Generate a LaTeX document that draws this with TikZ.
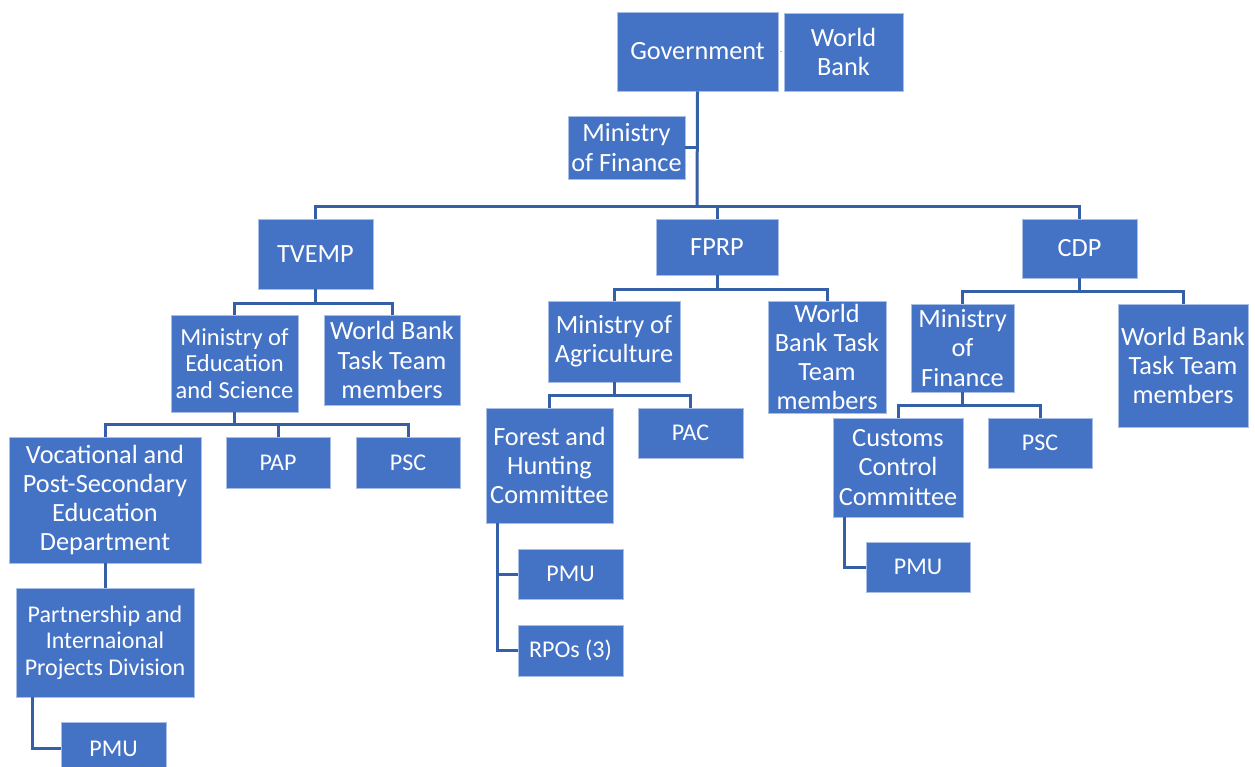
\documentclass[tikz,border=0pt]{standalone}
\usepackage{fontspec}
\setmainfont{Carlito}
\usetikzlibrary{calc}
\definecolor{boxfill}{HTML}{4472C4}
\definecolor{boxedge}{HTML}{A9BEE6}
\definecolor{conn}{HTML}{3560A8}
\tikzset{
  box/.style={fill=boxfill, draw=boxedge, line width=0.8pt, text=white, align=center, inner sep=0pt, font=\fontsize{26.3}{29.3}\selectfont},
  small/.style={font=\fontsize{24}{26.3}\selectfont},
  mid/.style={font=\fontsize{24.5}{26.8}\selectfont},
  link/.style={draw=conn, line width=3pt},
}
\newcommand\bx[7][]{\node[box,#1, minimum width={(#5-#3)*1pt}, minimum height={(#6-#4)*1pt}] (#2) at ({(#3+#5)/2},{(#4+#6)/2}) {#7};}
\begin{document}
\begin{tikzpicture}[x=1pt,y=-1pt]
\useasboundingbox (0,0) rectangle (1255,767);
% boxes
\bx{gov}{617}{12}{778}{91}{Government}
\bx{wb}{784}{13}{903}{91}{World\\Bank}
\bx{mof}{568}{116}{685}{179}{Ministry\\of Finance}
\bx{tvemp}{258}{219}{373}{289}{TVEMP}
\bx{fprp}{656}{219}{778}{275}{FPRP}
\bx{cdp}{1022}{219}{1137}{278}{CDP}
\bx[mid]{moes}{171}{315}{298}{412}{Ministry of\\Education\\and Science}
\bx{wbta}{324}{315}{460}{405}{World Bank\\Task Team\\members}
\bx{voc}{9}{437}{201}{563}{Vocational and\\Post-Secondary\\Education\\Department}
\bx[small]{pap}{226}{437}{330}{488}{PAP}
\bx[small]{psca}{356}{437}{460}{488}{PSC}
\bx[small]{pid}{16}{588}{194}{697}{Partnership and\\Internaional\\Projects Division}
\bx[small]{pmua}{61}{722}{166}{775}{PMU}
\bx{moa}{548}{301}{680}{382}{Ministry of\\Agriculture}
\bx{wbtb}{768}{301}{886}{413}{World\\Bank Task\\Team\\members}
\bx{ffh}{486}{408}{613}{523}{Forest and\\Hunting\\Committee}
\bx[small]{pac}{638}{408}{743}{458}{PAC}
\bx[small]{pmub}{518}{549}{623}{599}{PMU}
\bx[small]{rpo}{518}{625}{623}{676}{RPOs (3)}
\bx{mofb}{911}{304}{1014}{392}{Ministry\\of\\Finance}
\bx{wbtc}{1118}{304}{1248}{427}{World Bank\\Task Team\\members}
\bx{ccc}{833}{418}{963}{517}{Customs\\Control\\Committee}
\bx[small]{pscb}{988}{418}{1092}{468}{PSC}
\bx[small]{pmuc}{866}{542}{970}{592}{PMU}
% connectors
\draw[draw=conn, line width=0.6pt, shorten <=2pt, shorten >=2pt] (gov.east) -- (wb.west);
\coordinate (t0) at (697,207);
\draw[link] (gov.south) -- (t0);
\draw[link] (mof.east) -- (mof.east -| t0);
\draw[link] (tvemp.north) |- (t0) -| (cdp.north);
\draw[link] (fprp.north) -- (fprp.north |- t0);
% TVEMP
\coordinate (v1) at ($(tvemp.south)+(0,14)$);
\draw[link] (moes.north) |- (v1) -| (wbta.north);
\draw[link] (tvemp.south) -- (v1);
% MoES
\coordinate (m1) at ($(moes.south)+(0,12)$);
\draw[link] (voc.north) |- (m1) -| (psca.north);
\draw[link] (moes.south) -- (m1);
\draw[link] (pap.north) -- (pap.north |- m1);
\draw[link] (voc.south) -- (pid.north);
\coordinate (pa) at (32,697);
\draw[link] (pa) |- (pmua.west);
% FPRP
\coordinate (f1) at ($(fprp.south)+(0,14)$);
\draw[link] (moa.north) |- (f1) -| (wbtb.north);
\draw[link] (fprp.south) -- (f1);
\coordinate (a1) at ($(moa.south)+(0,13)$);
\draw[link] (ffh.north) |- (a1) -| (pac.north);
\draw[link] (moa.south) -- (a1);
\coordinate (fa) at (497,523);
\draw[link] (fa) |- (rpo.west);
\draw[link] (pmub.west -| fa) -- (pmub.west);
% CDP
\coordinate (c1) at ($(cdp.south)+(0,13)$);
\draw[link] (mofb.north) |- (c1) -| (wbtc.north);
\draw[link] (cdp.south) -- (c1);
\coordinate (d1) at ($(mofb.south)+(0,13)$);
\draw[link] (ccc.north) |- (d1) -| (pscb.north);
\draw[link] (mofb.south) -- (d1);
\coordinate (ca) at (844,517);
\draw[link] (ca) |- (pmuc.west);
\end{tikzpicture}
\end{document}
